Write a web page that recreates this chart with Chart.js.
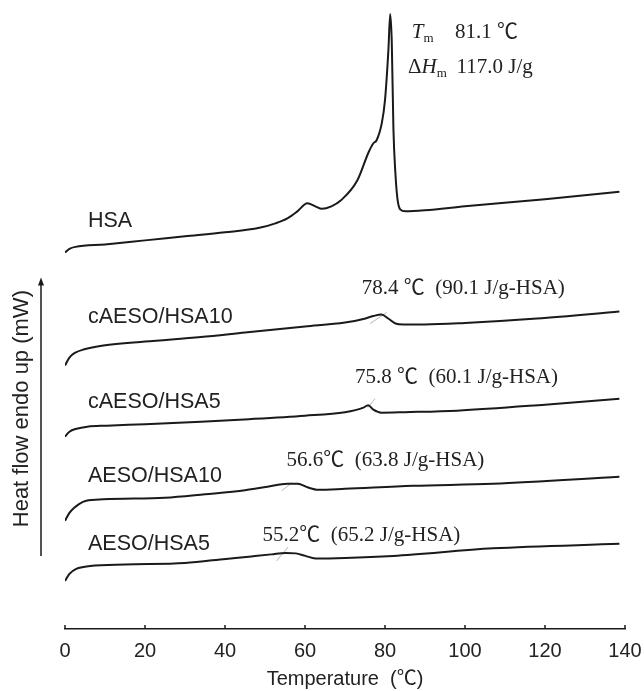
<!DOCTYPE html>
<html>
<head>
<meta charset="utf-8">
<script src="https://cdn.jsdelivr.net/npm/chart.js@4/dist/chart.umd.min.js"></script>
<style>
  html,body{margin:0;padding:0;background:#fff;overflow:hidden}
  #wrap{width:644px;height:691px;position:relative}
</style>
</head>
<body>
<div id="wrap"><canvas id="dsc"></canvas></div>
<script>
/* ── DATA (temperature in °C, heat flow in arbitrary offset units) ── */
const tempTicks = [0,20,40,60,80,100,120,140];

const hsaT = [0,1.1,2.6,10,20,30,40,48.6,52.6,55.6,58.1,60.6,62.6,64.2,66.6,69,73.1,75.9,77.1,77.9,79.2,80,80.85,81.3,81.7,82.1,82.6,83.1,83.8,85.1,90,100,120,138.6];
const hsaV = [37.6,37.95,38.15,38.4,38.8,39.2,39.6,40.05,40.5,41.0,41.7,42.5,42.2,41.95,42.2,42.8,44.8,47.6,48.5,48.8,50.5,52.8,57.8,61.4,58.5,50,45.5,43.0,41.9,41.7,41.8,42.2,42.9,43.65];

const c10T = [0,1.1,2.6,4.6,9.6,20,34,45,60,70,74.6,77.1,79.1,80.8,82.6,84.6,90,100,118,138.6];
const c10V = [26.3,27.1,27.6,27.9,28.3,28.7,29.15,29.6,30.2,30.6,30.95,31.25,31.4,31.0,30.5,30.4,30.4,30.55,31.0,31.7];

const c5T = [0,1.1,2.9,5.6,10.4,20,34,46,60,70,72.6,74.6,75.8,77.1,79.1,85,98,120,138.6];
const c5V = [19.2,19.7,20.0,20.2,20.3,20.45,20.7,20.95,21.3,21.65,21.85,22.1,22.35,21.9,21.6,21.65,21.8,22.4,23.0];

const a10T = [0,1.1,2.3,3.6,5.3,9.6,25,35,45,50.6,55.6,58.2,60.6,63.3,70,87,107,138.6];
const a10V = [10.8,11.6,12.1,12.5,12.8,12.95,13.1,13.45,13.85,14.2,14.5,14.5,14.15,13.9,14.0,14.3,14.5,15.2];

const a5T = [0,1.1,2.8,4.6,6.3,15,30,40.2,46.6,51.6,55.1,57.7,60.1,62.6,70,82,107,138.6];
const a5V = [4.8,5.5,6.0,6.2,6.3,6.45,6.6,7.0,7.25,7.45,7.6,7.55,7.3,7.05,7.1,7.3,8.05,8.5];

// short grey tangent marks at the melting peaks
const markT = [[76.3,80.4],[75.7,77.5],[54.2,56.7],[52.9,55.8]];
const markV = [[30.5,31.6],[22.1,23.0],[13.8,14.6],[6.8,8.2]];

const seriesNames = ['HSA','cAESO/HSA10','cAESO/HSA5','AESO/HSA10','AESO/HSA5'];
const nameV = [40.7,31.15,22.7,15.3,8.5];
const nameT = 5.75;

const peakNotes = ['78.4 ℃  (90.1 J/g-HSA)','75.8 ℃  (60.1 J/g-HSA)','56.6℃  (63.8 J/g-HSA)','55.2℃  (65.2 J/g-HSA)'];
const peakNoteT = [74.2,72.5,55.4,49.4];
const peakNoteV = [34.0,25.1,16.8,9.3];

const SANS = '"Liberation Sans", Arial, "Noto Sans CJK SC", sans-serif';
const SERIF = '"Liberation Serif", "Times New Roman", "Noto Sans CJK SC", serif';
const INK = '#1a1a1a';

const pts = (T,V) => T.map((t,i)=>({x:t,y:V[i]}));
const curve = (T,V) => ({ data:pts(T,V), borderColor:INK, borderWidth:2, pointRadius:0,
  cubicInterpolationMode:'monotone', fill:false });

const datasets = [
  curve(hsaT,hsaV), curve(c10T,c10V), curve(c5T,c5V), curve(a10T,a10V), curve(a5T,a5V),
  ...markT.map((T,i)=>({ data:pts(T,markV[i]), borderColor:'#b5b5b5', borderWidth:1, pointRadius:0 }))
];

/* ── rich text helper (italic / subscript pieces) ── */
function drawRich(ctx, parts, x, y, size) {
  let cx = x;
  parts.forEach(p=>{
    const sz = p.sub ? size*0.62 : size;
    ctx.font = `${p.it?'italic ':''}${sz}px ${SERIF}`;
    ctx.fillText(p.t, cx, p.sub ? y+size*0.3 : y);
    cx += ctx.measureText(p.t).width;
  });
}

const deco = {
  id:'deco',
  afterDraw(chart) {
    const {ctx, chartArea:a, scales:{x,y}} = chart;
    ctx.save();
    // inner tick marks
    ctx.strokeStyle = INK; ctx.lineWidth = 1.5;
    tempTicks.forEach(t=>{
      const px = x.getPixelForValue(t);
      ctx.beginPath(); ctx.moveTo(px,a.bottom); ctx.lineTo(px,a.bottom-4); ctx.stroke();
    });

    // y arrow + title
    const ax = a.left-24, top = y.getPixelForValue(35.1), bot = y.getPixelForValue(7.3);
    ctx.lineWidth = 1.5;
    ctx.beginPath(); ctx.moveTo(ax,bot); ctx.lineTo(ax,top+6); ctx.stroke();
    ctx.fillStyle = INK;
    ctx.beginPath(); ctx.moveTo(ax,top); ctx.lineTo(ax-3,top+8); ctx.lineTo(ax+3,top+8); ctx.closePath(); ctx.fill();

    ctx.save();
    ctx.translate(a.left-43, y.getPixelForValue(22.0));
    ctx.rotate(-Math.PI/2);
    ctx.font = `22px ${SANS}`; ctx.textAlign='center'; ctx.textBaseline='middle';
    ctx.fillStyle = '#222';
    ctx.fillText('Heat flow endo up (mW)',0,0);
    ctx.restore();

    // curve names
    ctx.font = `21.5px ${SANS}`; ctx.textAlign='left'; ctx.textBaseline='middle'; ctx.fillStyle='#222';
    seriesNames.forEach((n,i)=> ctx.fillText(n, x.getPixelForValue(nameT), y.getPixelForValue(nameV[i])));

    // peak notes
    ctx.font = `21px ${SERIF}`;
    peakNotes.forEach((n,i)=> ctx.fillText(n, x.getPixelForValue(peakNoteT[i]), y.getPixelForValue(peakNoteV[i])));

    // HSA melting data
    const r1 = y.getPixelForValue(59.6), r2 = y.getPixelForValue(56.1);
    drawRich(ctx,[{t:'T',it:true},{t:'m',sub:true}], x.getPixelForValue(86.7), r1, 21);
    drawRich(ctx,[{t:'81.1 ℃'}], x.getPixelForValue(97.5), r1, 21);
    drawRich(ctx,[{t:'Δ'},{t:'H',it:true},{t:'m',sub:true}], x.getPixelForValue(85.75), r2, 21);
    drawRich(ctx,[{t:'117.0 J/g'}], x.getPixelForValue(97.9), r2, 21);
    ctx.restore();
  }
};

new Chart(document.getElementById('dsc').getContext('2d'), {
  type:'line',
  data:{ datasets },
  options:{
    responsive:true, maintainAspectRatio:false, animation:false,
    layout:{ padding:{ left:65, right:19, top:8, bottom:0 } },
    plugins:{ legend:{display:false}, tooltip:{enabled:false} },
    scales:{
      x:{ type:'linear', min:0, max:140,
          afterBuildTicks: s => { s.ticks = tempTicks.map(v=>({value:v})); },
          afterFit: s => { s.paddingLeft = 0; s.paddingRight = 0; },
          grid:{ display:true, drawOnChartArea:false, drawTicks:false },
          border:{ display:true, color:INK, width:1.5 },
          ticks:{ color:'#222', font:{family:SANS,size:20}, padding:10, maxRotation:0, autoSkip:false },
          title:{ display:true, text:'Temperature  (℃)', color:'#222', font:{family:SANS,size:20}, padding:{top:-6,bottom:0} } },
      y:{ display:false, min:0, max:62 }
    }
  },
  plugins:[deco]
});
</script>
</body>
</html>
